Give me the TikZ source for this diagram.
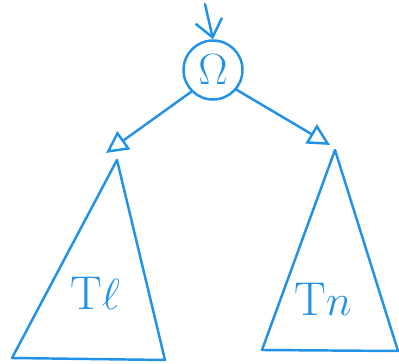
\documentclass[tikz,border=0pt]{standalone}
\usepackage{tikz}
\usetikzlibrary{arrows.meta}
\definecolor{pen}{RGB}{33,146,232}

\begin{document}
\begin{tikzpicture}[
    x=0.02cm, y=-0.02cm,
    every node/.style={text=pen},
    ink/.style={draw=pen, line width=1.4pt, line cap=round, line join=round},
    root/.style={ink, circle, minimum size=1.18cm, inner sep=0pt, font=\fontsize{28}{28}\selectfont},
    label/.style={font=\fontsize{27}{27}\selectfont},
    link/.style={ink, -{Triangle[open, length=4.4mm, width=4.4mm, line width=1.4pt]}},
    entry/.style={ink, -{Straight Barb[length=3.4mm, width=5.4mm, line width=1.4pt]}}
]
\useasboundingbox (0,0) rectangle (399,364);
\node[root] (omega) at (213,70) {$\Omega$};
\coordinate (top) at (205,4);
\draw[entry] (top) -- (omega.north);
% left subtree
\coordinate (ltop) at (117,160);
\coordinate (lleft) at (12,358);
\coordinate (lright) at (165,360);
\coordinate (ltip) at (106,153);
\draw[ink] (ltop) -- (lleft) -- (lright) -- cycle;
\node[label] (tl) at (95,293) {T$\ell$};
% right subtree
\coordinate (rtop) at (335,150);
\coordinate (rleft) at (262,350);
\coordinate (rright) at (398,351);
\coordinate (rtip) at (330,145);
\draw[ink] (rtop) -- (rleft) -- (rright) -- cycle;
\node[label] (tr) at (323,299) {T$n$};
\draw[link] (omega.-135) -- (ltip);
\draw[link] (omega.-40) -- (rtip);
\end{tikzpicture}
\end{document}
